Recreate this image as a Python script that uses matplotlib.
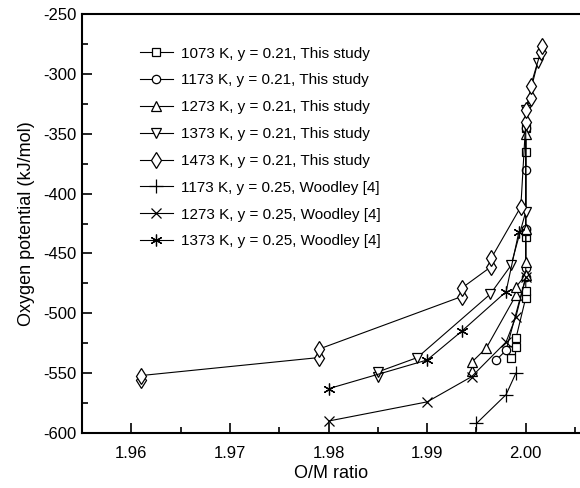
import numpy as np
import matplotlib
matplotlib.use("Agg")
import matplotlib.pyplot as plt
from matplotlib.ticker import MultipleLocator

plt.rcParams['font.family'] = ['Liberation Sans', 'DejaVu Sans']
plt.rcParams['axes.unicode_minus'] = False

# this study, y = 0.21
x_1073 = [1.9985, 1.9985, 1.999, 1.999, 2.000, 2.000, 2.000, 2.000, 2.000, 2.000]
y_1073 = [-537, -531, -528, -521, -487, -481, -436, -431, -365, -345]

x_1173 = [1.997, 1.998, 2.000, 2.000, 2.000, 2.000, 2.000]
y_1173 = [-539, -531, -470, -462, -430, -380, -345]

x_1273 = [1.9945, 1.9945, 1.996, 1.999, 1.999, 2.000, 2.000, 2.000, 2.000]
y_1273 = [-548, -541, -529, -485, -478, -468, -457, -430, -350]

x_1373 = [1.985, 1.985, 1.989, 1.9964, 1.9985, 2.000, 2.000, 2.0012]
y_1373 = [-553, -549, -537, -484, -460, -415, -330, -291]

x_1473 = [1.961, 1.961, 1.979, 1.979, 1.9935, 1.9935, 1.9965, 1.9965,
          1.9995, 2.000, 2.000, 2.0005, 2.0005, 2.0015, 2.0016]
y_1473 = [-556, -552, -537, -530, -486, -479, -461, -454,
          -411, -340, -330, -320, -310, -282, -277]

# Woodley [4], y = 0.25
x_w1173 = [1.995, 1.998, 1.999]
y_w1173 = [-592, -568, -550]

x_w1273 = [1.980, 1.990, 1.9945, 1.998, 1.999, 2.000]
y_w1273 = [-590, -574, -553, -524, -503, -470]

x_w1373 = [1.980, 1.990, 1.9935, 1.998, 1.9993]
y_w1373 = [-563, -539, -515, -482, -432]

series = [
    (x_1073, y_1073, 's', 5.5, '1073 K, y = 0.21, This study'),
    (x_1173, y_1173, 'o', 6, '1173 K, y = 0.21, This study'),
    (x_1273, y_1273, '^', 6.5, '1273 K, y = 0.21, This study'),
    (x_1373, y_1373, 'v', 6.5, '1373 K, y = 0.21, This study'),
    (x_1473, y_1473, 'd', 8, '1473 K, y = 0.21, This study'),
    (x_w1173, y_w1173, '+', 10, '1173 K, y = 0.25, Woodley [4]'),
    (x_w1273, y_w1273, 'x', 7, '1273 K, y = 0.25, Woodley [4]'),
    (x_w1373, y_w1373, (6, 2, 0), 8.5, '1373 K, y = 0.25, Woodley [4]'),
]

fig = plt.figure(figsize=(5.8, 4.88), dpi=100)
ax = fig.add_axes([0.1414, 0.1127, 0.8586, 0.8586])

for xs, ys, m, ms, lab in series:
    ax.plot(xs, ys, color='black', lw=0.8, marker=m, markersize=ms,
            markerfacecolor='white', markeredgecolor='black',
            markeredgewidth=0.9, label=lab)

ax.set_xlim(1.955, 2.0055)
ax.set_ylim(-600, -250)
ax.xaxis.set_major_locator(MultipleLocator(0.01))
ax.xaxis.set_minor_locator(MultipleLocator(0.005))
ax.yaxis.set_major_locator(MultipleLocator(50))
ax.yaxis.set_minor_locator(MultipleLocator(25))
ax.xaxis.set_major_formatter(plt.FormatStrFormatter('%.2f'))
ax.tick_params(which='both', direction='in', labelsize=12, width=1.2)
ax.tick_params(which='major', length=7)
ax.tick_params(which='minor', length=4)
ax.tick_params(axis='x', pad=9)
ax.tick_params(axis='y', pad=4)
ax.spines['right'].set_visible(False)
for s in ['left', 'bottom', 'top']:
    ax.spines[s].set_linewidth(1.5)

ax.set_xlabel('O/M ratio', fontsize=13, labelpad=3)
ax.set_ylabel('Oxygen potential (kJ/mol)', fontsize=13, labelpad=6)

ax.legend(loc='upper left', bbox_to_anchor=(0.23, 0.917), bbox_transform=fig.transFigure,
          frameon=False, fontsize=11, labelspacing=0.84, handlelength=2.2,
          handletextpad=0.5, borderaxespad=0)

fig.savefig('out.png', dpi=100)
